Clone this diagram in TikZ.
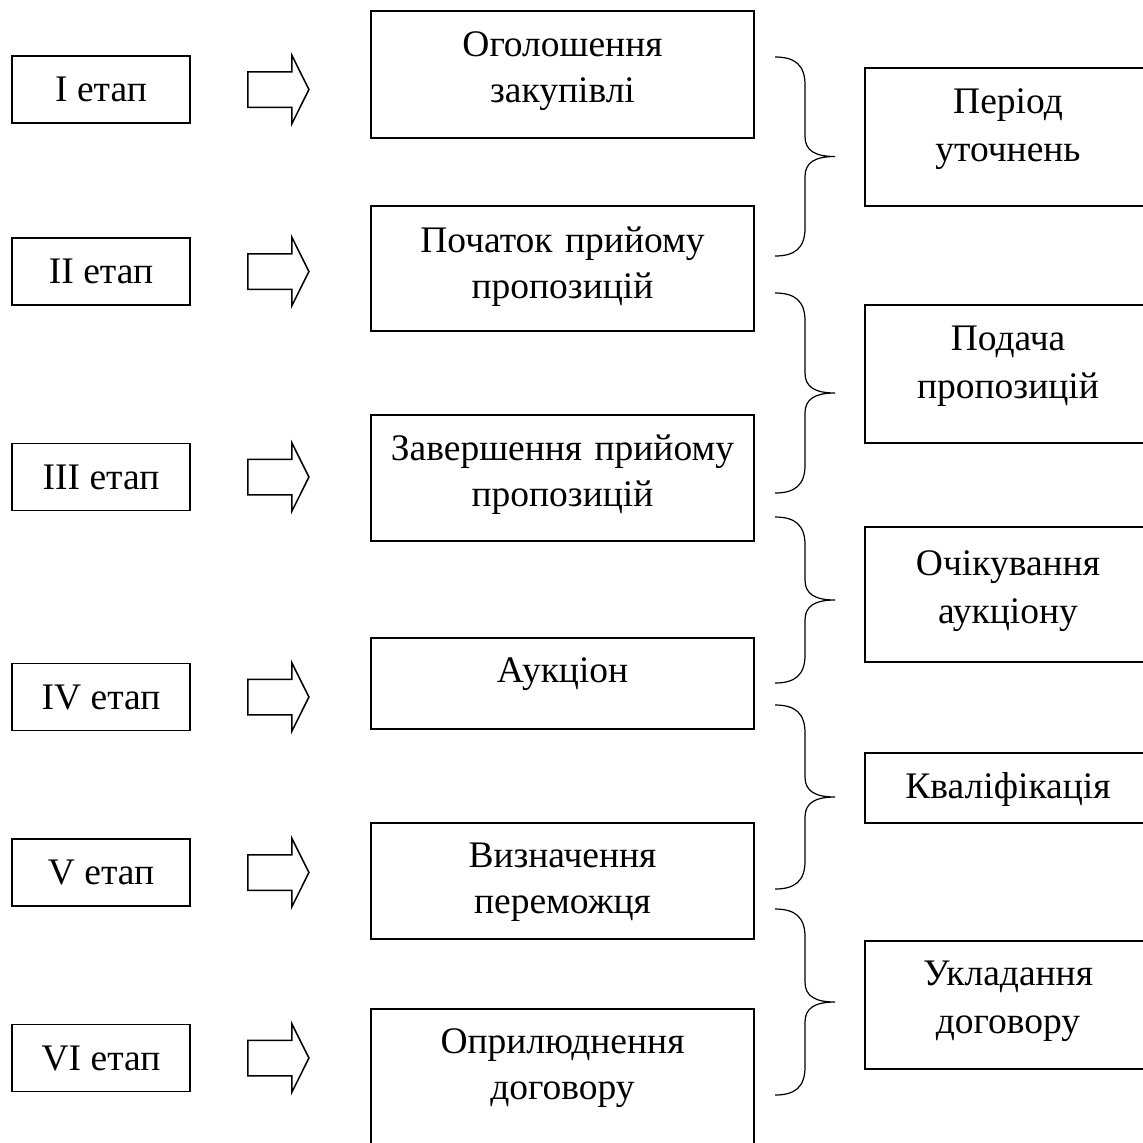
\documentclass[tikz,border=0pt]{standalone}
\usepackage{fontspec}
\setmainfont{Liberation Serif}
\usepackage{tikz}
\usetikzlibrary{shapes.arrows, positioning}

\begin{document}
\begin{tikzpicture}[x=0.5pt, y=-0.5pt, font=\fontsize{18.75pt}{23pt}\selectfont,
        stagebox/.style={draw, rectangle, line width=0.75pt, minimum width=89pt, minimum height=33.5pt, inner sep=0pt},
        eventbox/.style={draw, rectangle, line width=0.75pt, minimum width=191.5pt, text width=185pt, align=center, inner sep=0pt, text height=14pt},
        periodbox/.style={draw, rectangle, line width=0.75pt, minimum width=143pt, text width=138pt, align=center, inner sep=0pt, text height=14pt,
            font=\fontsize{18.75pt}{24pt}\selectfont},
        blockarrow/.style={draw, single arrow, line width=0.75pt, single arrow tip angle=127, single arrow head extend=8.25pt, inner xsep=0pt, inner ysep=8.5pt, minimum height=30.5pt},
        bracepath/.style={draw, line width=0.6pt}]
        \clip (0,0) rectangle (1143,1142);

        % stages
        \node[stagebox] (st1) at (101,89.5) {I етап};
        \node[stagebox] (st2) at (101,271.5) {II етап};
        \node[stagebox] (st3) at (101,477) {III етап};
        \node[stagebox] (st4) at (101,697) {IV етап};
        \node[stagebox] (st5) at (101,872.5) {V етап};
        \node[stagebox] (st6) at (101,1058) {VI етап};

        % block arrows
        \node[blockarrow] (ar1) at (274,89.5) {};
        \node[blockarrow] (ar2) at (274,271.5) {};
        \node[blockarrow] (ar3) at (274,477) {};
        \node[blockarrow] (ar4) at (274,697) {};
        \node[blockarrow] (ar5) at (274,872.5) {};
        \node[blockarrow] (ar6) at (274,1058) {};

        % events
        \node[eventbox, minimum height=63.5pt, text depth=32.5pt] (ev1) at (562.5,74.5) {Оголошення\\закупівлі};
        \node[eventbox, minimum height=62.5pt, text depth=30.5pt] (ev2) at (562.5,268.5) {Початок прийому\\пропозицій};
        \node[eventbox, minimum height=63pt, text depth=32pt] (ev3) at (562.5,478) {Завершення прийому\\пропозицій};
        \node[eventbox, minimum height=45.5pt, text depth=15.5pt] (ev4) at (562.5,683.5) {Аукціон};
        \node[eventbox, minimum height=58pt, text depth=28pt] (ev5) at (562.5,881) {Визначення\\переможця};
        \node[eventbox, minimum height=70.5pt, text depth=40.5pt] (ev6) at (562.5,1079.5) {Оприлюднення\\договору};

        % braces
        \foreach \yt/\yb in {57/256, 293/493, 517/683, 705/889, 909/1095} {
            \pgfmathsetmacro\ym{(\yt+\yb)/2}
            \draw[bracepath] (775,\yt) .. controls (795,\yt) and (805,\yt+8) .. (805,\yt+28)
                -- (805,\ym-20) .. controls (805,\ym-6) and (815,\ym) .. (835,\ym)
                .. controls (815,\ym) and (805,\ym+6) .. (805,\ym+20)
                -- (805,\yb-28) .. controls (805,\yb-8) and (795,\yb) .. (775,\yb);
        }

        % periods
        \node[periodbox, minimum height=69pt, text depth=38pt] (pd1) at (1008,137) {Період\\уточнень};
        \node[periodbox, minimum height=69pt, text depth=38pt] (pd2) at (1008,374) {Подача\\пропозицій};
        \node[periodbox, minimum height=67.5pt, text depth=33.5pt] (pd3) at (1008,594.5) {Очікування\\аукціону};
        \node[periodbox, minimum height=35pt, text depth=4pt] (pd4) at (1008,788) {Кваліфікація};
        \node[periodbox, minimum height=64pt, text depth=34pt] (pd5) at (1008,1005) {Укладання\\договору};
    \end{tikzpicture}
\end{document}
